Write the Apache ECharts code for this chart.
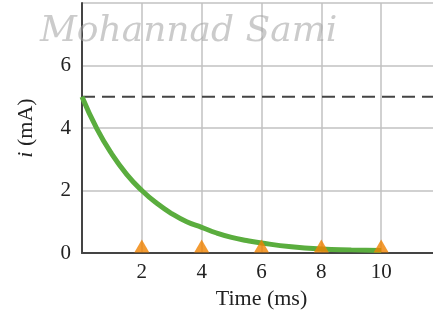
<!DOCTYPE html>
<html><head><meta charset="utf-8">
<script src="https://cdn.jsdelivr.net/npm/echarts@6/dist/echarts.min.js"></script>
<style>html,body{margin:0;padding:0;background:#fff}#c{width:433px;height:326px}</style>
</head><body><div id="c"></div>
<script>
var curveT = [0, 0.5, 1, 1.5, 2, 2.5, 3, 3.5, 4, 4.5, 5, 5.5, 6, 7, 8, 9, 10];
var curveI = [5.0, 3.97, 3.16, 2.51, 2.0, 1.59, 1.26, 1.0, 0.82, 0.64, 0.5, 0.4, 0.32, 0.2, 0.13, 0.1, 0.08];
var markerT = [2, 4, 6, 8, 10];
var markerI = [0, 0, 0, 0, 0];
var asymptote = 5;
var xTicks = [2, 4, 6, 8, 10];
var yTicks = [0, 2, 4, 6];

var chart = echarts.init(document.getElementById('c'));
var serif = '"Liberation Serif", "DejaVu Serif", serif';
chart.setOption({
  animation: false,
  grid: {left: 82, top: 3, width: 359, bottom: 73, containLabel: false, outerBoundsMode: 'none'},
  xAxis: {
    type: 'value', min: 0, max: 12, interval: 2,
    name: 'Time (ms)', nameLocation: 'middle', nameGap: 35,
    nameTextStyle: {fontFamily: serif, fontSize: 22, color: '#222'},
    axisLine: {show: true, onZero: false, lineStyle: {color: '#444', width: 2}},
    axisTick: {show: false},
    axisLabel: {fontFamily: serif, fontSize: 21, color: '#222', margin: 9,
      formatter: function (v) { return xTicks.indexOf(v) >= 0 ? String(v) : ''; }},
    splitLine: {show: true, lineStyle: {color: '#c2c2c2', width: 1.5}}
  },
  yAxis: {
    type: 'value', min: 0, max: 8, interval: 2,
    name: '{i|i} (mA)', nameLocation: 'middle', nameGap: 45, nameRotate: 90,
    nameTextStyle: {fontFamily: serif, fontSize: 22, color: '#222',
      rich: {i: {fontFamily: serif, fontSize: 22, fontStyle: 'italic', color: '#222'}}},
    axisLine: {show: true, lineStyle: {color: '#444', width: 2}},
    axisTick: {show: false},
    axisLabel: {fontFamily: serif, fontSize: 21, color: '#222', margin: 11,
      formatter: function (v) { return yTicks.indexOf(v) >= 0 ? String(v) : ''; }},
    splitLine: {show: true, lineStyle: {color: '#c2c2c2', width: 1.5}}
  },
  graphic: [{
    type: 'text', left: 40, top: 14, z: 100,
    style: {text: 'Mohannad Sami', font: 'italic 36px "DejaVu Serif", serif',
      fill: 'rgba(160,160,160,0.55)'}
  }],
  series: [
    {
      type: 'line', data: [[0, asymptote], [12, asymptote]], symbol: 'none',
      lineStyle: {color: '#444', width: 2, type: [13, 7]}, z: 3
    },
    {
      type: 'line', smooth: true, symbol: 'none',
      data: curveT.map(function (t, k) { return [t, curveI[k]]; }),
      lineStyle: {color: '#5aad3e', width: 5}, z: 4
    },
    {
      type: 'scatter', symbol: 'triangle', symbolSize: [15, 13], symbolOffset: [0, -7],
      data: markerT.map(function (t, k) { return [t, markerI[k]]; }),
      itemStyle: {color: '#f08200'}, z: 5
    }
  ]
});
</script></body></html>
